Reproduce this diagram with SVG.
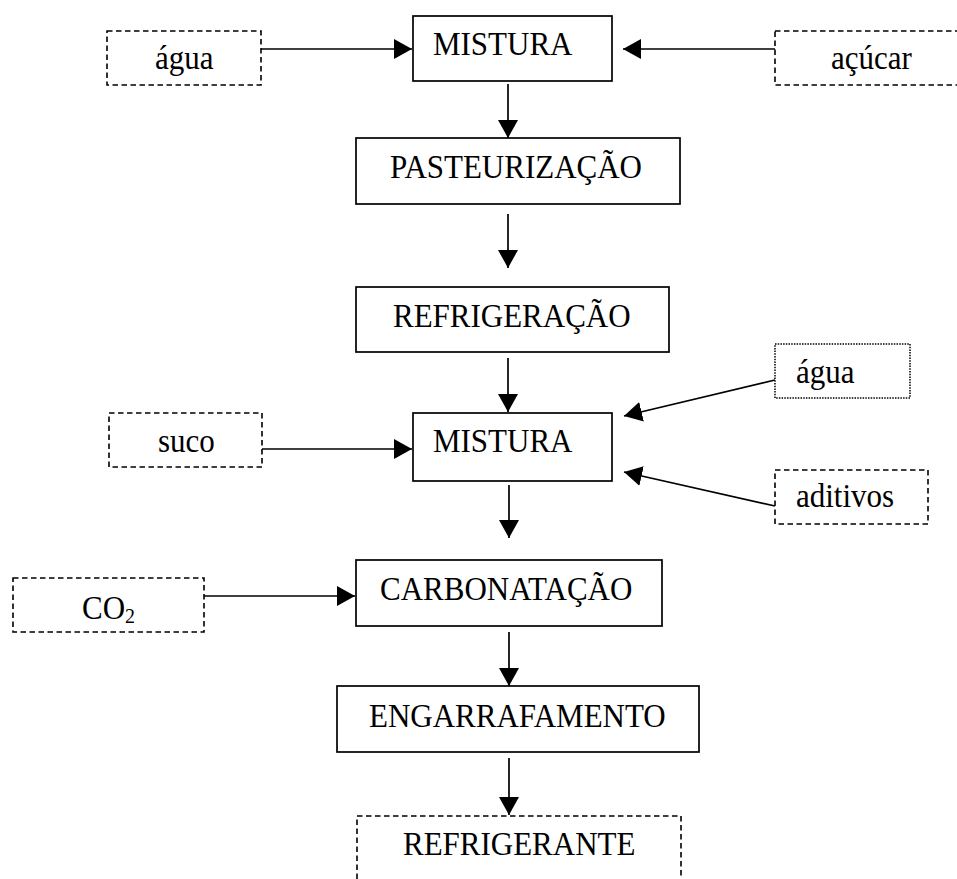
<svg xmlns="http://www.w3.org/2000/svg" width="957" height="879" viewBox="0 0 957 879">
<style>
.box{fill:#fff;stroke:#000;stroke-width:1.7}
.dash{fill:#fff;stroke:#000;stroke-width:1.6;stroke-dasharray:5.5 3.5}
.dot{fill:#fff;stroke:#000;stroke-width:1.5;stroke-dasharray:1.5 1.2}
.t{font-family:"Liberation Serif","Times New Roman",serif;font-size:31px;fill:#000}
.sub{font-size:20px}
.c{stroke:#000;stroke-width:1.7;fill:none;marker-end:url(#ah)}
</style>
<defs>
<marker id="ah" markerUnits="userSpaceOnUse" markerWidth="20" markerHeight="20" refX="18" refY="10" orient="auto">
<path d="M0,0 L18,10 L0,20 z" fill="#000"/>
</marker>
</defs>
<rect width="957" height="879" fill="#fff"/>
<g id="connectors">
<line class="c" x1="261" y1="49" x2="412" y2="49"/>
<line class="c" x1="775" y1="49" x2="623" y2="49"/>
<line class="c" x1="508" y1="84" x2="508" y2="138"/>
<line class="c" x1="508" y1="214" x2="508" y2="268"/>
<line class="c" x1="508" y1="358" x2="508" y2="412"/>
<line class="c" x1="262" y1="449" x2="412" y2="449"/>
<line class="c" x1="775" y1="380" x2="624" y2="416"/>
<line class="c" x1="775" y1="506" x2="624" y2="472"/>
<line class="c" x1="509" y1="485" x2="509" y2="538"/>
<line class="c" x1="204" y1="596" x2="355" y2="596"/>
<line class="c" x1="509" y1="632" x2="509" y2="686"/>
<line class="c" x1="509" y1="758" x2="509" y2="815"/>
</g>
<g id="agua1"><rect class="dash" x="107" y="31" width="154" height="54"/><text class="t" transform="translate(155,69) scale(1,1.08)">água</text></g>
<g id="mistura1"><rect class="box" x="413" y="16" width="199" height="65"/><text class="t" transform="translate(433,55) scale(1,1.08)">MISTURA</text></g>
<g id="acucar"><rect class="dash" x="775" y="31" width="192" height="54"/><text class="t" transform="translate(831,69) scale(1,1.08)">açúcar</text></g>
<g id="pasteurizacao"><rect class="box" x="356" y="138" width="324" height="66"/><text class="t" transform="translate(390,178) scale(1,1.08)">PASTEURIZAÇÃO</text></g>
<g id="refrigeracao"><rect class="box" x="356" y="287" width="313" height="65"/><text class="t" transform="translate(393,327) scale(1,1.08)">REFRIGERAÇÃO</text></g>
<g id="agua2"><rect class="dot" x="775" y="344" width="135" height="54"/><text class="t" transform="translate(796,383) scale(1,1.08)">água</text></g>
<g id="suco"><rect class="dash" x="109" y="413" width="153" height="54"/><text class="t" transform="translate(158,452) scale(1,1.08)">suco</text></g>
<g id="mistura2"><rect class="box" x="413" y="413" width="199" height="68"/><text class="t" transform="translate(433,452) scale(1,1.08)">MISTURA</text></g>
<g id="aditivos"><rect class="dash" x="775" y="470" width="153" height="54"/><text class="t" transform="translate(796,507) scale(1,1.08)">aditivos</text></g>
<g id="co2"><rect class="dash" x="13" y="578" width="191" height="54"/><text class="t" transform="translate(82,619) scale(1,1.08)">CO<tspan class="sub" dy="4">2</tspan></text></g>
<g id="carbonatacao"><rect class="box" x="356" y="560" width="306" height="66"/><text class="t" transform="translate(380,600) scale(1,1.08)">CARBONATAÇÃO</text></g>
<g id="engarrafamento"><rect class="box" x="337" y="686" width="362" height="66"/><text class="t" transform="translate(369,727) scale(1,1.08)">ENGARRAFAMENTO</text></g>
<g id="refrigerante"><rect class="dash" x="357" y="816" width="324" height="90"/><text class="t" transform="translate(403,855) scale(1,1.08)">REFRIGERANTE</text></g>
</svg>
